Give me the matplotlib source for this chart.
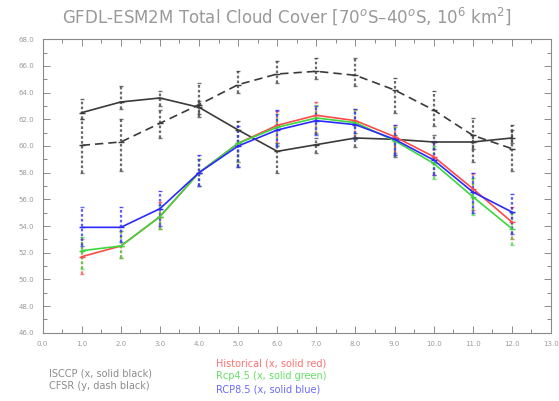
import matplotlib
matplotlib.use("Agg")
import matplotlib.pyplot as plt
from matplotlib.ticker import MultipleLocator, FormatStrFormatter
import numpy as np

# Monthly climatology, 70S-40S total cloud cover (10^6 km^2)
months = [1, 2, 3, 4, 5, 6, 7, 8, 9, 10, 11, 12]

isccp = [62.5, 63.3, 63.6, 62.9, 61.2, 59.6, 60.1, 60.6, 60.5, 60.3, 60.3, 60.6]
cfsr = [60.05, 60.3, 61.7, 63.1, 64.6, 65.4, 65.6, 65.3, 64.2, 62.7, 60.8, 59.8]
historical = [51.7, 52.5, 54.7, 58.0, 60.2, 61.55, 62.3, 61.9, 60.7, 59.2, 56.8, 54.3]
rcp45 = [52.15, 52.5, 54.7, 58.0, 60.2, 61.4, 62.1, 61.75, 60.4, 58.7, 56.2, 53.8]
rcp85 = [53.9, 53.9, 55.3, 58.0, 60.0, 61.2, 61.9, 61.6, 60.5, 58.95, 56.55, 55.05]

# Year-to-year range of each month
isccp_lo = [62.0, 62.8, 63.0, 62.4, 58.4, 58.0, 59.5, 59.9, 59.2, 59.8, 59.8, 60.2]
isccp_hi = [63.5, 64.5, 64.1, 63.4, 61.9, 60.2, 60.6, 61.0, 60.8, 60.8, 60.8, 61.2]
cfsr_lo = [58.0, 58.1, 60.6, 62.2, 64.0, 64.7, 65.0, 64.5, 62.5, 61.5, 58.8, 58.1]
cfsr_hi = [62.0, 62.0, 62.7, 64.7, 65.6, 66.4, 66.6, 66.6, 65.1, 64.1, 62.1, 61.6]
hist_lo = [50.4, 51.6, 53.8, 57.0, 58.8, 60.2, 61.0, 60.6, 59.5, 57.8, 55.2, 53.0]
hist_hi = [53.0, 53.6, 55.8, 59.0, 61.2, 62.6, 63.3, 62.8, 61.6, 60.3, 58.0, 55.4]
rcp45_lo = [50.8, 51.6, 53.8, 57.0, 58.8, 60.1, 60.9, 60.5, 59.3, 57.5, 54.8, 52.6]
rcp45_hi = [53.2, 53.6, 55.6, 59.0, 61.2, 62.4, 63.1, 62.7, 61.4, 60.0, 57.6, 55.0]
rcp85_lo = [52.5, 52.8, 54.0, 57.0, 58.4, 60.0, 60.8, 60.5, 59.3, 57.8, 55.0, 53.4]
rcp85_hi = [55.4, 55.4, 56.6, 59.3, 61.5, 62.7, 63.0, 62.8, 61.6, 60.4, 58.0, 56.4]

title = "GFDL-ESM2M Total Cloud Cover [70$^o$S\u201340$^o$S, 10$^6$ km$^2$]"
legend_left = ["ISCCP (x, solid black)", "CFSR (y, dash black)"]
legend_right = ["Historical (x, solid red)", "Rcp4.5 (x, solid green)", "RCP8.5 (x, solid blue)"]

W, H = 559, 401
fig = plt.figure(figsize=(W / 100, H / 100), dpi=100)
ax = fig.add_axes([42.6 / W, 1 - 332.7 / H, (551 - 42.6) / W, (332.7 - 39.3) / H])

black = "#3a3a3a"
red = "#ff4a4a"
green = "#3ad83a"
blue = "#2a2aff"

series = [
    (isccp, isccp_lo, isccp_hi, black, "-"),
    (cfsr, cfsr_lo, cfsr_hi, black, (0, (5, 3))),
    (historical, hist_lo, hist_hi, red, "-"),
    (rcp45, rcp45_lo, rcp45_hi, green, "-"),
    (rcp85, rcp85_lo, rcp85_hi, blue, "-"),
]

x = np.array(months, dtype=float)
for vals, lo, hi, col, ls in series:
    ax.vlines(x, lo, hi, colors=col, linewidth=1.6, linestyles=(0, (1.2, 1.0)), alpha=0.75, zorder=2)
    ax.plot(x, lo, linestyle="none", marker="_", markersize=3, color=col, alpha=0.7, zorder=2)
    ax.plot(x, hi, linestyle="none", marker="_", markersize=3, color=col, alpha=0.7, zorder=2)
    ax.plot(x, vals, linestyle=ls, color=col, linewidth=1.2, marker="_", markersize=5, zorder=3)

ax.set_xlim(0, 13)
ax.set_ylim(46, 68)
ax.xaxis.set_major_locator(MultipleLocator(1))
ax.xaxis.set_minor_locator(MultipleLocator(0.5))
ax.yaxis.set_major_locator(MultipleLocator(2))
ax.yaxis.set_minor_locator(MultipleLocator(1))
ax.xaxis.set_major_formatter(FormatStrFormatter("%.1f"))
ax.yaxis.set_major_formatter(FormatStrFormatter("%.1f"))

axis_col = "#8a8a8a"
for s in ax.spines.values():
    s.set_color(axis_col)
    s.set_linewidth(0.8)
ax.tick_params(which="both", direction="in", top=True, right=True, colors=axis_col,
               labelcolor="#9a9a9a", labelsize=5, width=0.7)
ax.tick_params(which="major", length=5, pad=6)
ax.tick_params(which="minor", length=3)

fig.text(287 / W, 1 - 16 / H, title, ha="center", va="center", fontsize=12, color="#999999")

text_col = "#8c8c8c"
fig.text(49 / W, 1 - 373 / H, legend_left[0], fontsize=7, color=text_col, va="center")
fig.text(49 / W, 1 - 386 / H, legend_left[1], fontsize=7, color=text_col, va="center")
for txt, yy, col in zip(legend_right, [363, 376, 389], ["#ff7070", "#66e066", "#6a6aff"]):
    fig.text(216 / W, 1 - yy / H, txt, fontsize=7, color=col, va="center")

fig.savefig("out.png", dpi=100, facecolor="white")
